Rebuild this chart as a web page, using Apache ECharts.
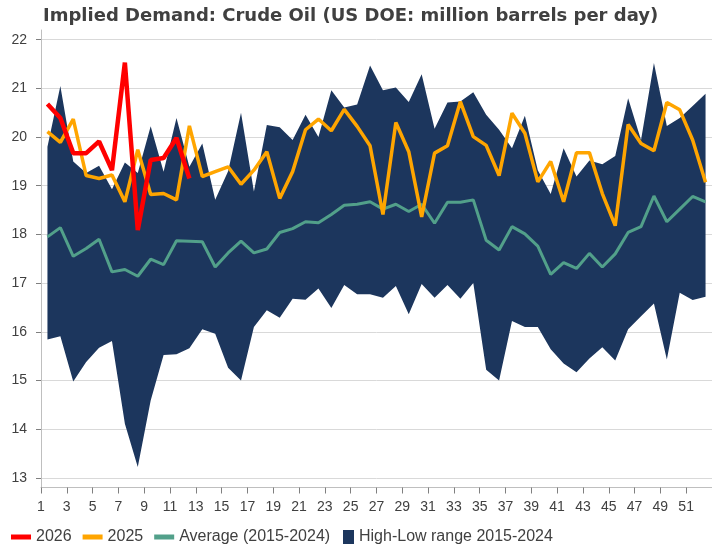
<!DOCTYPE html>
<html>
<head>
<meta charset="utf-8">
<script src="https://cdn.jsdelivr.net/npm/echarts@6/dist/echarts.min.js"></script>
<style>
  html, body { margin: 0; padding: 0; background: #fff; }
  #chart { width: 712px; height: 550px; }
</style>
</head>
<body>
<div id="chart"></div>
<script>
// 周次（横轴类目）
const weeks = ['1', '2', '3', '4', '5', '6', '7', '8', '9', '10', '11', '12', '13', '14', '15', '16', '17', '18', '19', '20',
  '21', '22', '23', '24', '25', '26', '27', '28', '29', '30', '31', '32', '33', '34', '35', '36', '37', '38', '39', '40',
  '41', '42', '43', '44', '45', '46', '47', '48', '49', '50', '51', '52'];
// 纵轴刻度
const yTicks = [13, 14, 15, 16, 17, 18, 19, 20, 21, 22];

// 2015-2024 最高 / 最低
const rangeHigh = [19.80, 21.05, 19.50, 19.26, 19.41, 18.93, 19.48, 19.26, 20.22, 19.29,
  20.39, 19.39, 19.87, 18.71, 19.30, 20.50, 18.88, 20.25, 20.20, 19.94,
  20.46, 20.00, 20.96, 20.61, 20.67, 21.47, 20.96, 21.02, 20.72, 21.29,
  20.17, 20.71, 20.73, 20.92, 20.46, 20.15, 19.77, 20.44, 19.32, 18.83,
  19.77, 19.19, 19.52, 19.44, 19.61, 20.80, 19.94, 21.52, 20.23, 20.39,
  20.64, 20.89];
const rangeLow = [15.84, 15.91, 14.98, 15.38, 15.67, 15.81, 14.11, 13.22, 14.59, 15.52,
  15.54, 15.66, 16.05, 15.96, 15.26, 15.00, 16.10, 16.44, 16.29, 16.68,
  16.66, 16.89, 16.49, 16.96, 16.77, 16.77, 16.70, 16.94, 16.36, 16.98,
  16.70, 16.96, 16.68, 17.00, 15.22, 15.00, 16.22, 16.10, 16.10, 15.64,
  15.35, 15.17, 15.45, 15.68, 15.41, 16.05, 16.32, 16.58, 15.43, 16.80,
  16.65, 16.72];
// 2015-2024 平均
const average = [17.95, 18.14, 17.55, 17.71, 17.90, 17.23, 17.28, 17.14, 17.49, 17.38,
  17.87, 17.86, 17.85, 17.33, 17.62, 17.86, 17.62, 17.70, 18.04, 18.12,
  18.26, 18.24, 18.41, 18.60, 18.62, 18.67, 18.52, 18.62, 18.47, 18.62,
  18.23, 18.66, 18.66, 18.71, 17.88, 17.68, 18.16, 18.01, 17.76, 17.18,
  17.42, 17.30, 17.61, 17.33, 17.60, 18.04, 18.16, 18.79, 18.26, 18.52,
  18.78, 18.67];
const values2025 = [20.11, 19.89, 20.37, 19.21, 19.15, 19.22, 18.67, 19.74, 18.82, 18.84,
  18.71, 20.23, 19.19, 19.29, 19.39, 19.03, 19.32, 19.70, 18.74, 19.29,
  20.15, 20.37, 20.13, 20.57, 20.22, 19.82, 18.41, 20.30, 19.70, 18.36,
  19.67, 19.82, 20.73, 20.01, 19.83, 19.21, 20.49, 20.08, 19.08, 19.50,
  18.67, 19.68, 19.68, 18.84, 18.18, 20.26, 19.87, 19.72, 20.71, 20.56,
  19.94, 19.07];
const values2026 = [20.68, 20.39, 19.67, 19.67, 19.91, 19.32, 21.53, 18.09, 19.53, 19.57, 19.98, 19.15];

const chart = echarts.init(document.getElementById('chart'));

// 区间带：先叠一条透明的低值，再叠上 (高-低)
const rangeSpan = rangeHigh.map((h, i) => +(h - rangeLow[i]).toFixed(2));

const labelColor = '#404040';
const fontFamily = '"Liberation Sans", Arial, sans-serif';

const option = {
  animation: false,
  backgroundColor: '#fff',
  title: {
    text: 'Implied Demand: Crude Oil (US DOE: million barrels per day)',
    left: 38,
    top: 2,
    textStyle: {
      fontFamily: '"DejaVu Sans", sans-serif',
      fontWeight: 'bold',
      fontSize: 18,
      color: '#404040'
    }
  },
  grid: { left: 41, right: -2, top: 30, bottom: 62.5, containLabel: false },
  legend: [
    {
      data: ['2026', '2025', 'Average (2015-2024)'],
      left: 11,
      top: 529,
      padding: 0,
      icon: 'rect',
      itemWidth: 20,
      itemHeight: 5,
      itemGap: 11,
      textStyle: { fontFamily, fontSize: 16, color: labelColor }
    },
    {
      data: ['High-Low range 2015-2024'],
      left: 343,
      top: 529,
      padding: 0,
      icon: 'rect',
      itemWidth: 11,
      itemHeight: 14,
      textStyle: { fontFamily, fontSize: 16, color: labelColor }
    }
  ],
  xAxis: {
    type: 'category',
    data: weeks,
    boundaryGap: true,
    axisLine: { lineStyle: { color: '#bfbfbf', width: 1 } },
    axisTick: { show: true, interval: 1, length: 6, lineStyle: { color: '#7f7f7f' } },
    axisLabel: {
      interval: 1,
      margin: 13,
      padding: [0, 13, 0, 0],
      fontFamily,
      fontSize: 14,
      color: labelColor
    },
    splitLine: { show: false }
  },
  yAxis: {
    type: 'value',
    min: 12.8,
    max: 22.2,
    axisLine: { show: true, lineStyle: { color: '#bfbfbf', width: 1 } },
    axisTick: { show: true, length: 5, customValues: yTicks, lineStyle: { color: '#7f7f7f' } },
    axisLabel: { customValues: yTicks, margin: 14, fontFamily, fontSize: 14, color: labelColor },
    splitLine: { show: true, lineStyle: { color: '#d9d9d9', width: 1 } }
  },
  series: [
    {
      name: 'rangeBase',
      type: 'line',
      stack: 'range',
      data: rangeLow,
      symbol: 'none',
      lineStyle: { width: 0, opacity: 0 },
      silent: true
    },
    {
      name: 'High-Low range 2015-2024',
      type: 'line',
      stack: 'range',
      data: rangeSpan,
      symbol: 'none',
      color: '#1c365d',
      lineStyle: { width: 0, opacity: 0 },
      areaStyle: { color: '#1c365d', opacity: 1 }
    },
    {
      name: 'Average (2015-2024)',
      type: 'line',
      data: average,
      symbol: 'none',
      color: '#52a08a',
      lineStyle: { width: 3, color: '#52a08a' }
    },
    {
      name: '2025',
      type: 'line',
      data: values2025,
      symbol: 'none',
      color: '#ffa500',
      lineStyle: { width: 3.5, color: '#ffa500' }
    },
    {
      name: '2026',
      type: 'line',
      data: values2026,
      symbol: 'none',
      color: '#ff0000',
      lineStyle: { width: 4.5, color: '#ff0000' }
    }
  ]
};

chart.setOption(option);
</script>
</body>
</html>
